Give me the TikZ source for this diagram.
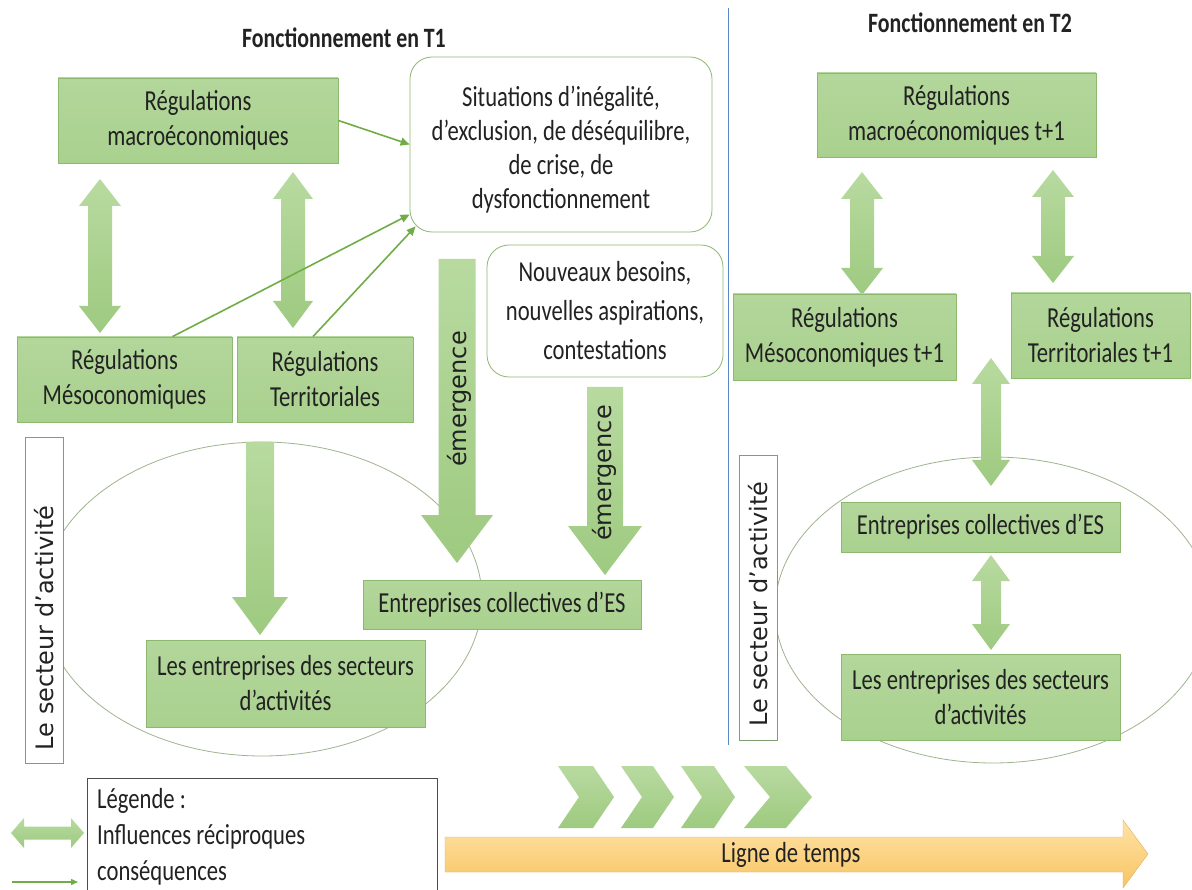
\documentclass[tikz,border=0pt]{standalone}
\usepackage{fontspec}
\setmainfont{Carlito}[FakeStretch=0.78]
\newfontfamily\vfont{DejaVu Sans}
\usetikzlibrary{arrows.meta,calc}
\definecolor{gfill}{HTML}{A9D18E}
\definecolor{gline}{HTML}{8CB870}
\definecolor{garrow}{HTML}{70AD47}
\definecolor{txt}{HTML}{222222}
\definecolor{divc}{HTML}{5A8AC6}
\definecolor{ellc}{HTML}{9FB58F}
\definecolor{fatA}{HTML}{B8DAA0}
\definecolor{fatB}{HTML}{9ECA80}
\definecolor{orA}{HTML}{FFE3A8}
\definecolor{orB}{HTML}{F8C462}
\definecolor{sboxc}{HTML}{7F9F70}
\newcommand{\vdbl}[6]{%
 \path[fat] (#1,#2) -- ({#1+#5},{#2+#6}) -- ({#1+#4},{#2+#6}) -- ({#1+#4},{#3-#6}) -- ({#1+#5},{#3-#6}) -- (#1,#3) -- ({#1-#5},{#3-#6}) -- ({#1-#4},{#3-#6}) -- ({#1-#4},{#2+#6}) -- ({#1-#5},{#2+#6}) -- cycle;}
\newcommand{\vdown}[6]{%
 \path[fat] ({#1-#4},#2) -- ({#1+#4},#2) -- ({#1+#4},{#3-#6}) -- ({#1+#5},{#3-#6}) -- (#1,#3) -- ({#1-#5},{#3-#6}) -- ({#1-#4},{#3-#6}) -- cycle;}
\newcommand{\chev}[3]{%
 \path[fat] (#1,766) -- ({#2-#3},766) -- (#2,797) -- ({#2-#3},828) -- (#1,828) -- ({#1+#3},797) -- cycle;}
\tikzset{
 gbox/.style={draw=gline, line width=0.8pt, top color=gfill!88!white, bottom color=gfill, inner sep=0pt, align=center, text=txt, font=\fontsize{29}{35}\selectfont},
 rbox/.style={draw=gline, line width=0.8pt, fill=white, rounded corners=22pt, inner sep=0pt, align=center, text=txt, font=\fontsize{29}{34}\selectfont},
 btext/.style={inner sep=0pt, align=center, text=txt, font=\fontsize{29}{34}\selectfont},
 sbox/.style={draw=sboxc, line width=0.8pt, fill=white, inner sep=0pt},
 vtext/.style={rotate=90, text=txt, font=\vfont\fontsize{24}{28}\selectfont, inner sep=0pt},
 title/.style={anchor=base, text=txt, font=\bfseries\fontsize{28}{34}\selectfont},
 fat/.style={top color=fatA, bottom color=fatB, draw=none},
 cons/.style={draw=garrow, line width=1.6pt, -{Triangle[length=9pt,width=8pt]}},
}
\begin{document}
\begin{tikzpicture}[x=1pt,y=-1pt]
\useasboundingbox (0,0) rectangle (1192,890);
\fill[white] (0,0) rectangle (1192,890);
\clip (0,0) rectangle (1192,890);

% titles and divider
\node[title] (t1) at (344,48) {Fonctionnement en T1};
\node[title] (t2) at (970,33) {Fonctionnement en T2};
\draw[divc, line width=0.7pt] (728,8) -- (728,745);

% ellipses
\draw[ellc, line width=0.8pt] (262,599) ellipse [x radius=220pt, y radius=157pt];
\draw[ellc, line width=0.8pt] (993,610) ellipse [x radius=218pt, y radius=153pt];

% fat arrows T1
\vdbl{100}{179}{333}{12}{21}{27}
\vdbl{293}{172}{328}{12}{20}{27}
\vdown{260}{442}{635}{14}{28}{38}
\vdown{457}{259}{563}{18.5}{36}{48}
\vdown{605}{387}{575}{18}{37}{49}
% fat arrows T2
\vdbl{862}{172}{295}{12}{21}{27}
\vdbl{1053}{170}{283}{12}{21}{27}
\vdbl{991}{358}{486}{10}{19}{26}
\vdbl{991}{555}{650}{10}{19}{26}

% T1 boxes
\node[gbox, minimum width=280, minimum height=85] (macro) at (198,120.5) {Régulations\\macroéconomiques};
\node[gbox, minimum width=215, minimum height=85] (meso) at (124.5,379.5) {Régulations\\Mésoconomiques};
\node[gbox, minimum width=176, minimum height=85] (terr) at (325,379.5) {Régulations\\Territoriales};
\node[rbox, minimum width=302, minimum height=175] (sit) at (561,144.5) {};
\node[btext] (sittxt) at (561,150) {Situations d’inégalité,\\d’exclusion, de déséquilibre,\\de crise, de\\dysfonctionnement};
\node[rbox, minimum width=236, minimum height=132, font=\fontsize{29}{39}\selectfont] (nouv) at (605,311) {Nouveaux besoins,\\nouvelles aspirations,\\contestations};
\node[gbox, minimum width=278, minimum height=49] (ecs1) at (502,604.5) {Entreprises collectives d’ES};
\node[gbox, minimum width=279, minimum height=87] (ent1) at (285.5,683.5) {Les entreprises des secteurs\\d’activités};
\node[sbox, minimum width=38, minimum height=326] (sect1) at (44,600) {};
\node[vtext] (sect1t) at (44,628) {Le secteur d’activité};
\node[vtext] (em1) at (459,399) {émergence};
\node[vtext] (em2) at (604,473) {émergence};

% consequence arrows
\draw[cons] (macro.east) -- (sit.west);
\draw[cons] ([xshift=48pt]meso.north) -- ([yshift=-70pt]sit.west);
\draw[cons] ([xshift=-12pt]terr.north) -- ([xshift=6pt,yshift=6pt]sit.south west);

% T2 boxes
\node[gbox, minimum width=279, minimum height=84] (macro2) at (956.5,115) {Régulations\\macroéconomiques t+1};
\node[gbox, minimum width=223, minimum height=86] (meso2) at (844.5,337) {Régulations\\Mésoconomiques t+1};
\node[gbox, minimum width=179, minimum height=85] (terr2) at (1100.5,335.5) {Régulations\\Territoriales t+1};
\node[gbox, minimum width=279, minimum height=50] (ecs2) at (980.5,527) {Entreprises collectives d’ES};
\node[gbox, minimum width=279, minimum height=86] (ent2) at (980.5,697) {Les entreprises des secteurs\\d’activités};
\node[sbox, minimum width=38, minimum height=285] (sect2) at (758,597.5) {};
\node[vtext] (sect2t) at (758,604) {Le secteur d’activité};

% time line
\chev{558}{614}{21}
\chev{621}{674}{21}
\chev{681}{735}{21}
\chev{744}{812}{26}
\path[top color=orA, bottom color=orB, draw=orB!90!black, line width=0.4pt] (445,837) -- (1123,837) -- (1123,820) -- (1148,854) -- (1123,888) -- (1123,872) -- (445,872) -- cycle;
\node[text=txt, font=\fontsize{29}{34}\selectfont] (ligne) at (791,855) {Ligne de temps};

% legend
\draw[black!70, line width=0.8pt, fill=white] (87,778) rectangle (437,893);
\node[anchor=west, align=left, text=txt, font=\fontsize{29}{36}\selectfont, inner sep=0pt] (leg) at (97,837) {Légende :\\Influences réciproques\\conséquences};
\path[fat] (11,833) -- (24,818) -- (24,826.5) -- (71,826.5) -- (71,818) -- (84,833) -- (71,848) -- (71,839.5) -- (24,839.5) -- (24,848) -- cycle;
\coordinate (la) at (12,882);
\coordinate (lb) at (78,882);
\draw[draw=garrow, line width=1.4pt, -{Triangle[length=7pt,width=6pt]}] (la) -- (lb);
\end{tikzpicture}
\end{document}
